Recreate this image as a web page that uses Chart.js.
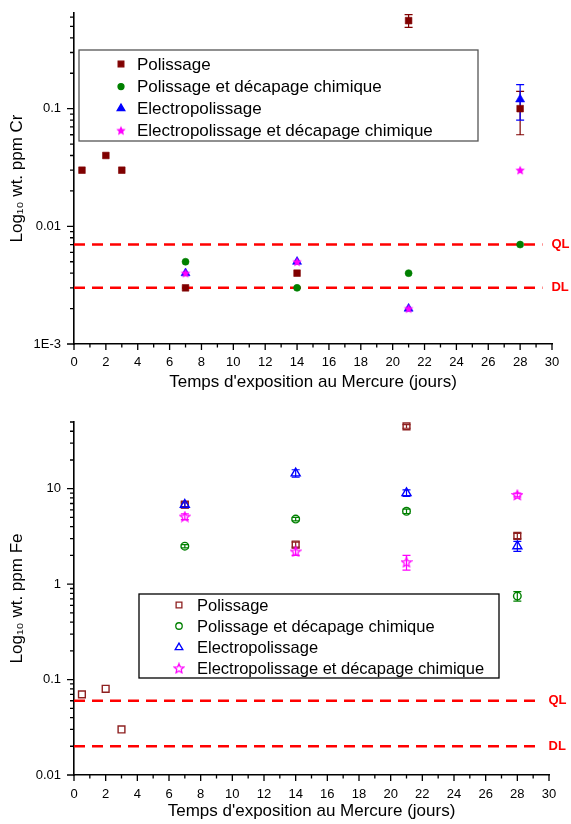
<!DOCTYPE html>
<html>
<head>
<meta charset="utf-8">
<script src="https://cdn.jsdelivr.net/npm/chart.js@4.4.1/dist/chart.umd.min.js"></script>
<style>
  body { margin: 0; background: #fff; width: 571px; height: 824px; overflow: hidden; position: relative; }
  canvas { position: absolute; left: 0; }
  #crChart { top: 0; }
  #feChart { top: 400px; }
</style>
</head>
<body>
<canvas id="crChart" width="571" height="400"></canvas>
<canvas id="feChart" width="571" height="424"></canvas>
<script>
// Cr / Fe release vs. mercury exposure time

const seriesNames = ["Polissage", "Polissage et décapage chimique", "Electropolissage", "Electropolissage et décapage chimique"];
const xTitle = "Temps d'exposition au Mercure (jours)";
const dayTicks = [0, 2, 4, 6, 8, 10, 12, 14, 16, 18, 20, 22, 24, 26, 28, 30];
const limitSpan = [0, 29.4];

// top panel: Cr
const crTicks = [0.001, 0.01, 0.1];
const crTickLabels = ["1E-3", "0.01", "0.1"];
const crPolX = [0.5, 2, 3, 7, 14, 21, 28];
const crPolY = [0.03, 0.04, 0.03, 0.003, 0.004, 0.56, 0.1];
const crPolErr = [0, 0, 0, 0, 0, 0.07, 0.04];
const crPdcX = [7, 14, 21, 28];
const crPdcY = [0.005, 0.003, 0.004, 0.007];
const crEpX = [7, 14, 21, 28];
const crEpY = [0.004, 0.005, 0.002, 0.12];
const crEpErr = [0, 0, 0, 0.04];
const crEdcX = [7, 14, 21, 28];
const crEdcY = [0.004, 0.005, 0.002, 0.03];
const crQL = 0.007;
const crDL = 0.003;

// bottom panel: Fe
const feTicks = [0.01, 0.1, 1, 10];
const feTickLabels = ["0.01", "0.1", "1", "10"];
const fePolX = [0.5, 2, 3, 7, 14, 21, 28];
const fePolY = [0.07, 0.08, 0.03, 6.8, 2.6, 45, 3.2];
const fePolErr = [0, 0, 0, 0.3, 0.15, 2, 0.2];
const fePdcX = [7, 14, 21, 28];
const fePdcY = [2.5, 4.8, 5.8, 0.75];
const fePdcErr = [0.1, 0.2, 0.3, 0.085];
const feEpX = [7, 14, 21, 28];
const feEpY = [6.8, 14.5, 9.0, 2.5];
const feEpErr = [0.5, 1.3, 0.7, 0.3];
const feEdcX = [7, 14, 21, 28];
const feEdcY = [5.1, 2.2, 1.7, 8.6];
const feEdcErr = [0.35, 0.2, 0.3, 0.4];
const feQL = 0.06;
const feDL = 0.02;

const FONT = "'Liberation Sans', Arial, Helvetica, sans-serif";
Chart.defaults.font.family = FONT;
Chart.defaults.color = "#000";

const WINE = "#800000", GREEN = "#008000", BLUE = "#0000ff", PINK = "#ff00ff", RED = "#ff0000";

function pts(xs, ys) {
  return xs.map((x, i) => ({ x, y: ys[i] }));
}

function starImage(color, filled) {
  const c = document.createElement("canvas");
  c.width = 12; c.height = 12;
  const g = c.getContext("2d");
  g.beginPath();
  for (let k = 0; k < 10; k++) {
    const r = k % 2 ? 2.3 : 5;
    const a = -Math.PI / 2 + k * Math.PI / 5;
    g.lineTo(6 + r * Math.cos(a), 6.4 + r * Math.sin(a));
  }
  g.closePath();
  if (filled) { g.fillStyle = color; g.fill(); }
  else { g.strokeStyle = color; g.lineWidth = 1.3; g.stroke(); }
  return c;
}

function limitLine(label, value) {
  return {
    label, data: pts(limitSpan, [value, value]), showLine: true, limit: true,
    borderColor: RED, borderWidth: 2.5, borderDash: [11, 7], pointRadius: 0, order: 10
  };
}

function series(label, xs, ys, errs, style, radius, color, filled, order) {
  return {
    label, data: pts(xs, ys), errors: errs, order,
    pointStyle: style, pointRadius: radius,
    pointBackgroundColor: filled ? color : "rgba(0,0,0,0)",
    pointBorderColor: color, pointBorderWidth: filled ? 0.6 : 1.4,
    borderColor: color, backgroundColor: color
  };
}

// error bars, drawn under the markers
const errorBars = {
  id: "errorBars",
  beforeDatasetsDraw(chart) {
    const { ctx, scales: { x, y } } = chart;
    ctx.save();
    ctx.lineWidth = 1.2;
    chart.data.datasets.forEach(ds => {
      if (!ds.errors) return;
      ctx.strokeStyle = ds.borderColor;
      ds.data.forEach((p, i) => {
        const e = ds.errors[i];
        if (!e) return;
        const px = x.getPixelForValue(p.x);
        const top = y.getPixelForValue(p.y + e);
        const bot = y.getPixelForValue(p.y - e);
        ctx.beginPath();
        ctx.moveTo(px, top); ctx.lineTo(px, bot);
        ctx.moveTo(px - 4, top); ctx.lineTo(px + 4, top);
        ctx.moveTo(px - 4, bot); ctx.lineTo(px + 4, bot);
        ctx.stroke();
      });
    });
    ctx.restore();
  }
};

// outward major + minor ticks
const axisTicks = {
  id: "axisTicks",
  afterDraw(chart) {
    const { ctx, chartArea, scales: { x, y } } = chart;
    ctx.save();
    ctx.strokeStyle = "#000";
    ctx.lineWidth = 1.3;
    ctx.beginPath();
    const xt = x.ticks.map(t => t.value);
    xt.forEach((v, i) => {
      const px = x.getPixelForValue(v);
      ctx.moveTo(px, chartArea.bottom); ctx.lineTo(px, chartArea.bottom + 6);
      if (i < xt.length - 1) {
        const mx = x.getPixelForValue((v + xt[i + 1]) / 2);
        ctx.moveTo(mx, chartArea.bottom); ctx.lineTo(mx, chartArea.bottom + 3.5);
      }
    });
    y.ticks.forEach(t => {
      const py = y.getPixelForValue(t.value);
      ctx.moveTo(chartArea.left, py); ctx.lineTo(chartArea.left - 7, py);
      for (let k = 2; k <= 9; k++) {
        const v = t.value * k;
        if (v > y.max) break;
        const my = y.getPixelForValue(v);
        ctx.moveTo(chartArea.left, my); ctx.lineTo(chartArea.left - 4, my);
      }
    });
    ctx.stroke();
    ctx.restore();
  }
};

// QL / DL tags at the end of the dashed lines
const limitLabels = {
  id: "limitLabels",
  afterDatasetsDraw(chart) {
    const { ctx } = chart;
    ctx.save();
    ctx.fillStyle = RED;
    ctx.font = "bold 13px " + FONT;
    ctx.textBaseline = "middle";
    chart.data.datasets.forEach((ds, i) => {
      if (!ds.limit) return;
      const pts = chart.getDatasetMeta(i).data;
      const last = pts[pts.length - 1];
      ctx.fillText(ds.label, last.x + 9, last.y);
    });
    ctx.restore();
  }
};

// framed legend inside the plot
const boxLegend = {
  id: "boxLegend",
  afterDraw(chart, args, opts) {
    const { ctx } = chart;
    const [x1, y1, x2, y2] = opts.box;
    ctx.save();
    ctx.fillStyle = "#fff";
    ctx.fillRect(x1, y1, x2 - x1, y2 - y1);
    ctx.strokeStyle = opts.frame;
    ctx.lineWidth = 1.3;
    ctx.strokeRect(x1, y1, x2 - x1, y2 - y1);
    const items = chart.data.datasets.filter(ds => !ds.limit);
    items.forEach((ds, i) => {
      const ry = opts.rows[i];
      ctx.fillStyle = ds.pointBackgroundColor;
      ctx.strokeStyle = ds.pointBorderColor;
      Chart.helpers.drawPoint(ctx, {
        pointStyle: ds.pointStyle, radius: ds.pointRadius * 0.85, rotation: 0, borderWidth: ds.pointBorderWidth
      }, opts.markerX, ry);
      ctx.fillStyle = "#000";
      ctx.font = opts.fontSize + "px " + FONT;
      ctx.textBaseline = "middle";
      ctx.fillText(ds.label, opts.textX, ry + 1);
    });
    ctx.restore();
  }
};

function buildChart(id, o) {
  return new Chart(document.getElementById(id), {
    type: "scatter",
    data: { datasets: o.datasets },
    options: {
      responsive: false,
      animation: false,
      events: [],
      layout: { padding: o.padding },
      plugins: {
        legend: { display: false },
        tooltip: { enabled: false },
        boxLegend: o.legend
      },
      scales: {
        x: {
          type: "linear", min: 0, max: 30,
          grid: { display: false, drawTicks: false, tickLength: 0 },
          border: { display: true, color: "#000", width: 1.6 },
          afterBuildTicks: s => { s.ticks = dayTicks.map(v => ({ value: v })); },
          afterFit: s => { s.height = o.xHeight; s.paddingLeft = 0; s.paddingRight = 0; },
          ticks: { padding: o.xPad, font: { size: 13 }, color: "#000", maxRotation: 0, autoSkip: false },
          title: { display: true, text: xTitle, font: { size: 17 }, color: "#000", padding: { top: 0, bottom: o.titlePad } }
        },
        y: {
          type: "logarithmic", min: o.yMin, max: o.yMax,
          grid: { display: false, drawTicks: false, tickLength: 0 },
          border: { display: true, color: "#000", width: 1.6 },
          afterBuildTicks: s => { s.ticks = o.yTicks.map(v => ({ value: v })); },
          afterFit: s => { s.width = 74; s.paddingTop = 0; s.paddingBottom = 0; },
          ticks: { padding: 13, font: { size: 13 }, color: "#000", autoSkip: false, callback: (v, i) => o.yLabels[i] },
          title: { display: true, text: o.yTitle, font: { size: 17 }, color: "#000", padding: { top: 7, bottom: 0 } }
        }
      }
    },
    plugins: [errorBars, axisTicks, limitLabels, boxLegend]
  });
}

buildChart("crChart", {
  datasets: [
    limitLine("QL", crQL),
    limitLine("DL", crDL),
    series(seriesNames[0], crPolX, crPolY, crPolErr, "rect", 4.7, WINE, true, 4),
    series(seriesNames[1], crPdcX, crPdcY, null, "circle", 3.5, GREEN, true, 3),
    series(seriesNames[2], crEpX, crEpY, crEpErr, "triangle", 5.2, BLUE, true, 2),
    series(seriesNames[3], crEdcX, crEdcY, null, starImage(PINK, true), 5, PINK, true, 1)
  ],
  padding: { top: 13, right: 19, left: 0, bottom: 0 },
  xHeight: 56, xPad: 11, titlePad: 7,
  yMin: 0.001, yMax: 0.65, yTicks: crTicks, yLabels: crTickLabels,
  yTitle: "Log\u2081\u2080 wt. ppm Cr",
  legend: { box: [79, 50, 478, 141], frame: "#555", markerX: 121, textX: 137, rows: [64, 86.5, 108.5, 130.5], fontSize: 17 }
});

buildChart("feChart", {
  datasets: [
    limitLine("QL", feQL),
    limitLine("DL", feDL),
    series(seriesNames[0], fePolX, fePolY, fePolErr, "rect", 4.8, "#8e2020", false, 4),
    series(seriesNames[1], fePdcX, fePdcY, fePdcErr, "circle", 3.8, GREEN, false, 3),
    series(seriesNames[2], feEpX, feEpY, feEpErr, "triangle", 5.2, BLUE, false, 2),
    series(seriesNames[3], feEdcX, feEdcY, feEdcErr, starImage(PINK, false), 5, PINK, false, 1)
  ],
  padding: { top: 22, right: 22, left: 0, bottom: 0 },
  xHeight: 49, xPad: 12, titlePad: 2,
  yMin: 0.01, yMax: 50, yTicks: feTicks, yLabels: feTickLabels,
  yTitle: "Log\u2081\u2080 wt. ppm Fe",
  legend: { box: [139, 194, 499, 278], frame: "#000", markerX: 179, textX: 197, rows: [205, 226, 247.5, 268.3], fontSize: 16.5 }
});
</script>
</body>
</html>
